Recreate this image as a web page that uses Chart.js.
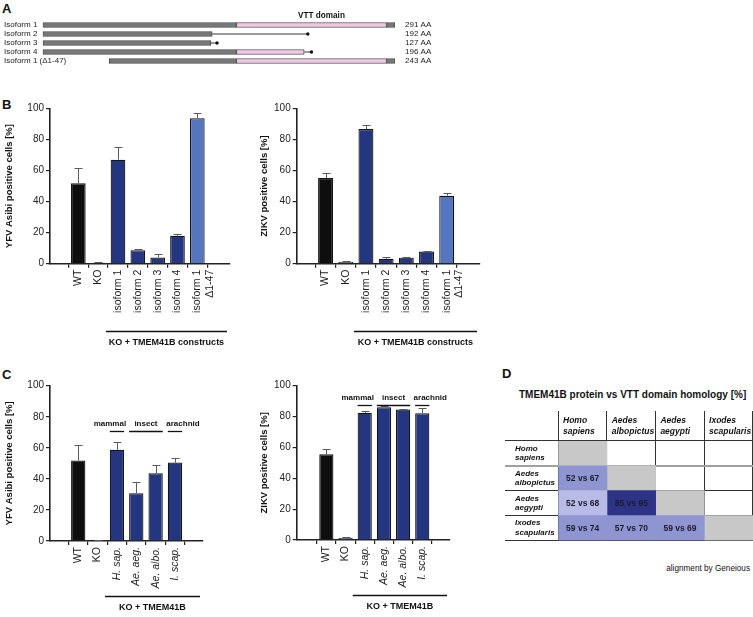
<!DOCTYPE html>
<html>
<head>
<meta charset="utf-8">
<title>TMEM41B isoforms and orthologs</title>
<script src="https://cdn.jsdelivr.net/npm/chart.js@4.4.1/dist/chart.umd.min.js"></script>
<style>
  body { margin: 0; background: #fff; }
  #fig { position: relative; width: 753px; height: 617px; overflow: hidden;
         font-family: "Liberation Sans", Arial, sans-serif; color: #111; }
  #fig canvas { position: absolute; }
  .tag { position: absolute; font-weight: bold; font-size: 13px; line-height: 13px; }
  .note { position: absolute; white-space: nowrap; }
</style>
</head>
<body>
<div id="fig">
  <div class="tag" style="left:2px;top:2px">A</div>
  <div class="tag" style="left:2px;top:98px">B</div>
  <div class="tag" style="left:2px;top:368px">C</div>
  <div class="tag" style="left:502px;top:367px">D</div>
  <div class="note" style="left:519px;top:389px;font-weight:bold;font-size:10px">TMEM41B protein vs VTT domain homology [%]</div>
  <div class="note" style="right:3px;top:564px;font-size:8.2px">alignment by Geneious</div>

  <canvas id="isoforms" width="753" height="75" style="left:0;top:0"></canvas>
  <canvas id="yfvB" width="250" height="260" style="left:0;top:92px"></canvas>
  <canvas id="zikvB" width="250" height="260" style="left:250px;top:92px"></canvas>
  <canvas id="yfvC" width="250" height="247" style="left:0;top:370px"></canvas>
  <canvas id="zikvC" width="250" height="247" style="left:250px;top:370px"></canvas>
  <canvas id="homology" width="248" height="145" style="left:505px;top:405px"></canvas>
</div>

<script>
// ---- panel A: isoforms, positions in amino acids ----
const isoformNames = ['Isoform 1', 'Isoform 2', 'Isoform 3', 'Isoform 4', 'Isoform 1 (Δ1-47)'];
const isoformLength = ['291 AA', '192 AA', '127 AA', '196 AA', '243 AA'];
const nTerm = [[0, 160], [0, 140], [0, 139], [0, 160], [55, 160]];
const vttDomain = [[160, 284], null, null, [160, 216], [160, 284]];
const cTerm = [[284, 291], null, null, null, [284, 291]];
const tailStart = [null, 140, 139, 216, null];
const tailEnd = [null, 219, 144, 222, null];

// ---- panel B: isoform constructs ----
const constructLabels = ['WT', 'KO', 'isoform 1', 'isoform 2', 'isoform 3', 'isoform 4', ['isoform 1', 'Δ1-47']];
const yfvConstructs = [51.8, 0.6, 67, 8.7, 4, 18, 93.7];
const yfvConstructsErr = [9.6, 0.3, 8.5, 0.5, 2.1, 1.3, 3.7];
const zikvConstructs = [55.2, 1.3, 86.8, 3.2, 3.9, 7.8, 43.8];
const zikvConstructsErr = [3.5, 0.6, 2.3, 1.0, 0.5, 0.5, 2.0];

// ---- panel C: orthologs ----
const orthologLabels = ['WT', 'KO', 'H. sap.', 'Ae. aeg.', 'Ae. albo.', 'I. scap.'];
const yfvOrthologs = [51.8, 0.6, 58.7, 30.8, 43.6, 50.5];
const yfvOrthologsErr = [9.8, 0.3, 5.3, 7.5, 5.1, 3.2];
const zikvOrthologs = [55.5, 1.5, 82.4, 86, 84.6, 82.1];
const zikvOrthologsErr = [3.4, 0.7, 1.3, 1.1, 0.6, 3.2];
const groupNames = ['mammal', 'insect', 'arachnid'];
const groupFrom = [2, 3, 5];
const groupTo = [2, 4, 5];

// ---- panel D: identity matrix (protein vs VTT domain) ----
const species = [['Homo', 'sapiens'], ['Aedes', 'albopictus'], ['Aedes', 'aegypti'], ['Ixodes', 'scapularis']];
const proteinIdentity = [[], [52], [52, 85], [59, 57, 59]];
const vttIdentity = [[], [67], [68, 95], [74, 70, 69]];

const FONT = '"Liberation Sans", Arial, sans-serif';
Chart.defaults.font.family = FONT;
Chart.defaults.color = '#111';

const NAVY = '#23367f', LIGHT = '#5576bf', BLACK = '#0e0e0e', SLATE = '#3e5568';

// panel A
const vttLabel = {
  id: 'vttLabel',
  afterDatasetsDraw(chart) {
    const bar = chart.getDatasetMeta(1).data[0];
    const c = chart.ctx;
    c.save();
    c.font = 'bold 8.2px ' + FONT;
    c.fillStyle = '#111';
    c.textAlign = 'center';
    c.fillText('VTT domain', (bar.x + bar.base) / 2 + 10, bar.y - 7);
    c.restore();
  }
};

const tails = isoformNames.map((name, r) => tailStart[r] == null ? null : {
  type: 'line',
  data: [{ x: tailStart[r], y: name }, { x: tailEnd[r], y: name }],
  borderColor: '#333',
  borderWidth: 1,
  pointRadius: [0, 1.7],
  pointBackgroundColor: '#111',
  pointBorderWidth: 0
}).filter(d => d);

new Chart(document.getElementById('isoforms'), {
  type: 'bar',
  data: {
    labels: isoformNames,
    datasets: [
      { data: nTerm, backgroundColor: '#777', borderColor: '#4a4a4a' },
      { data: vttDomain, backgroundColor: '#efc7e7', borderColor: '#555' },
      { data: cTerm, backgroundColor: '#777', borderColor: '#4a4a4a' },
      ...tails
    ]
  },
  options: {
    indexAxis: 'y',
    responsive: false,
    animation: false,
    layout: { padding: { left: 0, top: 20.5, right: 0, bottom: 9.5 } },
    datasets: { bar: { barThickness: 5, grouped: false, borderWidth: 1, borderSkipped: false } },
    plugins: { legend: { display: false }, tooltip: { enabled: false } },
    scales: {
      x: { display: false, min: 0, max: 291 },
      y: {
        afterFit: s => { s.width = 42.7; },
        grid: { display: false },
        border: { display: false },
        // mirrored so the long last label is not clipped to the axis box
        ticks: { mirror: true, autoSkip: false, crossAlign: 'near', padding: -38.7, color: '#222', font: { size: 8 } }
      },
      y2: {
        type: 'category',
        position: 'right',
        offset: true,
        labels: isoformLength,
        afterFit: s => { s.width = 358; },
        grid: { display: false },
        border: { display: false },
        ticks: { autoSkip: false, crossAlign: 'near', padding: 2, color: '#222', font: { size: 8 } }
      }
    }
  },
  plugins: [vttLabel]
});

// panels B and C
const errorBars = {
  id: 'errorBars',
  afterDatasetsDraw(chart) {
    const ds = chart.data.datasets[0];
    const bars = chart.getDatasetMeta(0).data;
    const y = chart.scales.y, c = chart.ctx;
    c.save();
    c.strokeStyle = '#5a5a5a';
    c.lineWidth = 1;
    bars.forEach((b, i) => {
      const top = Math.round(y.getPixelForValue(ds.data[i].y + ds.errors[i])) + 0.5;
      const x = Math.round(b.x) + 0.5;
      c.beginPath();
      c.moveTo(x, b.y);
      c.lineTo(x, top);
      c.moveTo(x - 4, top);
      c.lineTo(x + 4, top);
      c.stroke();
    });
    c.restore();
  }
};

const brackets = {
  id: 'brackets',
  afterDraw(chart, args, o) {
    if (!o || !o.under) return;
    const c = chart.ctx, x = chart.scales.x, y = chart.scales.y, area = chart.chartArea;
    const half = chart.getDatasetMeta(0).data[0].width / 2;
    c.save();
    c.strokeStyle = '#111';
    c.fillStyle = '#111';
    c.lineWidth = 1.3;
    c.textAlign = 'center';
    if (o.names) {
      c.font = 'bold 8px ' + FONT;
      const yy = Math.round(y.getPixelForValue(o.level)) + 0.5;
      o.names.forEach((name, k) => {
        const x0 = x.getPixelForValue(o.from[k]) - half;
        const x1 = x.getPixelForValue(o.to[k]) + half;
        c.beginPath(); c.moveTo(x0, yy); c.lineTo(x1, yy); c.stroke();
        c.fillText(name, (x0 + x1) / 2 + o.shift[k], yy - 6);
      });
    }
    const bx0 = x.getPixelForValue(o.start) - o.lead;
    const bx1 = area.right - 3;
    const by = Math.round(area.bottom + o.drop) + 0.5;
    c.beginPath(); c.moveTo(bx0, by); c.lineTo(bx1, by); c.stroke();
    c.font = 'bold 9px ' + FONT;
    c.fillText(o.under, (bx0 + bx1) / 2, by + 13);
    c.restore();
  }
};

function barPanel(id, labels, means, errs, colors, o) {
  return new Chart(document.getElementById(id), {
    type: 'bar',
    data: {
      datasets: [{
        data: means.map((v, i) => ({ x: i, y: v })),
        errors: errs,
        backgroundColor: colors,
        borderColor: '#151515',
        borderWidth: 1.2,
        barPercentage: 0.74,
        categoryPercentage: 1
      }]
    },
    options: {
      responsive: false,
      animation: false,
      layout: { padding: o.pad },
      plugins: { legend: { display: false }, tooltip: { enabled: false }, brackets: o.brackets },
      scales: {
        x: {
          type: 'linear',
          min: o.xmin,
          max: o.xmax,
          afterBuildTicks: s => { s.ticks = labels.map((_, i) => ({ value: i })); },
          afterFit: s => { s.height = 60; },
          grid: { drawOnChartArea: false, tickLength: 4, color: '#222', lineWidth: 1.2 },
          border: { color: '#222', width: 1.6 },
          ticks: {
            autoSkip: false, minRotation: 90, maxRotation: 90, padding: 2, color: '#222',
            font: ctx => ({ size: 10.5, style: ctx.index >= o.italicFrom ? 'italic' : 'normal' }),
            callback: v => labels[v]
          }
        },
        y: {
          min: 0,
          max: 100,
          afterFit: s => { s.width = o.yWidth; },
          grid: { drawOnChartArea: false, tickLength: 4, color: '#222', lineWidth: 1.2 },
          border: { color: '#222', width: 1.6 },
          ticks: { stepSize: 20, padding: 2, color: '#222', font: { size: 10 } },
          title: { display: true, text: o.title, color: '#111', padding: 4, font: { size: 9.5, weight: 'bold' } }
        }
      }
    },
    plugins: [errorBars, brackets]
  });
}

const constructColors = [BLACK, BLACK, NAVY, NAVY, NAVY, NAVY, LIGHT];
const constructColorsZ = [BLACK, SLATE, NAVY, NAVY, NAVY, NAVY, LIGHT];
const orthologColors = [BLACK, BLACK, NAVY, NAVY, NAVY, NAVY];
const orthologColorsZ = [BLACK, SLATE, NAVY, NAVY, NAVY, NAVY];

const underB = { under: 'KO + TMEM41B constructs', start: 2, lead: 12, drop: 67 };

barPanel('yfvB', constructLabels, yfvConstructs, yfvConstructsErr, constructColors, {
  pad: { left: 0, top: 16.5, right: 20, bottom: 28.3 }, yWidth: 50, xmin: -0.78, xmax: 7,
  title: 'YFV Asibi positive cells [%]', italicFrom: 99, brackets: underB
});
barPanel('zikvB', constructLabels, zikvConstructs, zikvConstructsErr, constructColorsZ, {
  pad: { left: 5, top: 16.5, right: 20, bottom: 28.3 }, yWidth: 41.7, xmin: -0.78, xmax: 7,
  title: 'ZIKV positive cells [%]', italicFrom: 99, brackets: underB
});

const groupsC = { names: groupNames, from: groupFrom, to: groupTo, shift: [-7, 0, 8] };

barPanel('yfvC', orthologLabels, yfvOrthologs, yfvOrthologsErr, orthologColors, {
  pad: { left: 0, top: 15.7, right: 47, bottom: 16 }, yWidth: 50, xmin: -0.8, xmax: 5.79,
  title: 'YFV Asibi positive cells [%]', italicFrom: 2,
  brackets: Object.assign({ level: 71, under: 'KO + TMEM41B', start: 2, lead: 12, drop: 55 }, groupsC)
});
barPanel('zikvC', orthologLabels, zikvOrthologs, zikvOrthologsErr, orthologColorsZ, {
  pad: { left: 5, top: 15.7, right: 50, bottom: 17 }, yWidth: 41.7, xmin: -0.88, xmax: 5.78,
  title: 'ZIKV positive cells [%]', italicFrom: 2,
  brackets: Object.assign({ level: 87.5, under: 'KO + TMEM41B', start: 2, lead: 12, drop: 55 }, groupsC)
});

// panel D
const DIAG = '#c8c8c8';
const cellShade = [[], ['#8e95d0'], ['#b7bbe6', '#2d3486'], ['#8e95d0', '#8e95d0', '#8e95d0']];

const cellText = {
  id: 'cellText',
  afterDraw(chart) {
    const c = chart.ctx;
    c.save();
    c.font = 'bold 8.5px ' + FONT;
    c.textAlign = 'center';
    c.textBaseline = 'middle';
    c.fillStyle = '#1b1b2e';
    chart.data.datasets.forEach((ds, col) => {
      chart.getDatasetMeta(col).data.forEach((bar, row) => {
        if (row <= col) return;
        c.fillText(proteinIdentity[row][col] + ' vs ' + vttIdentity[row][col], (bar.x + bar.base) / 2, bar.y + 0.5);
      });
    });
    c.restore();
  }
};

new Chart(document.getElementById('homology'), {
  type: 'bar',
  data: {
    labels: species,
    datasets: species.map((_, col) => ({
      data: species.map((__, row) => row >= col ? [col, col + 1] : null),
      backgroundColor: species.map((__, row) => row === col ? DIAG : (cellShade[row][col] || 'transparent')),
      borderWidth: 0,
      barPercentage: 1,
      categoryPercentage: 1,
      grouped: false
    }))
  },
  options: {
    indexAxis: 'y',
    responsive: false,
    animation: false,
    layout: { padding: { left: 10, top: 0, right: 0, bottom: 6 } },
    plugins: { legend: { display: false }, tooltip: { enabled: false } },
    scales: {
      x: { display: false, min: 0, max: 4 },
      x2: {
        type: 'category',
        position: 'top',
        labels: species,
        offset: true,
        z: 1,
        afterFit: s => { s.height = 36; },
        grid: { offset: true, tickLength: 30, color: '#333', lineWidth: 1 },
        border: { display: false },
        ticks: {
          align: 'start', labelOffset: -19.6, padding: -26.5, color: '#111',
          font: { size: 8.5, weight: 'bold', style: 'italic', lineHeight: 1.35 }
        }
      },
      y: {
        z: 1,
        afterFit: s => { s.width = 43.3; },
        grid: {
          tickLength: 53.3,
          color: ctx => ctx.index === 1 ? '#a0a0a0' : '#333',
          lineWidth: ctx => ctx.index === 1 ? 2 : 1
        },
        border: { display: false },
        ticks: {
          crossAlign: 'far', padding: 0, color: '#111',
          font: { size: 8, weight: 'bold', style: 'italic', lineHeight: 1.2 }
        }
      }
    }
  },
  plugins: [cellText]
});
</script>
</body>
</html>
